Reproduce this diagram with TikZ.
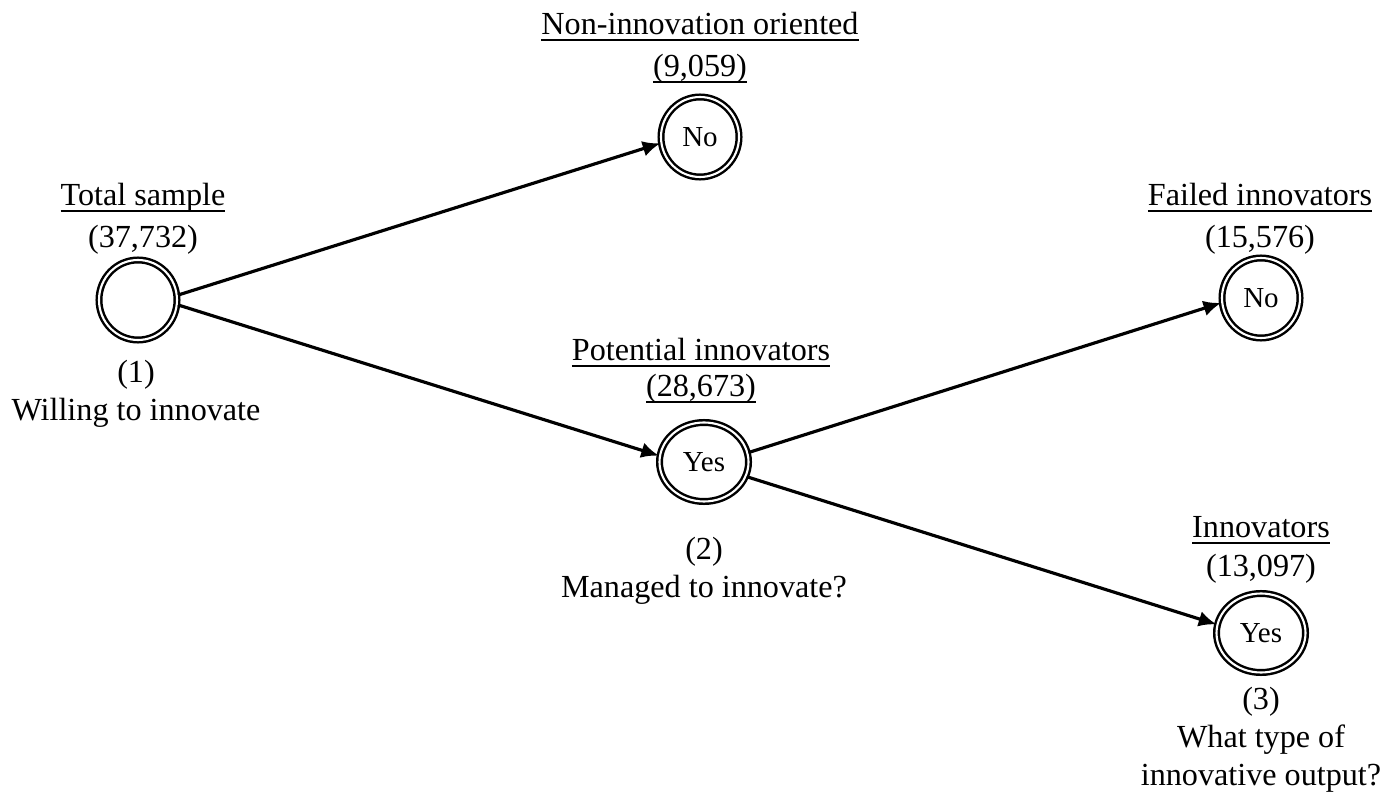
\documentclass[tikz,border=0pt]{standalone}
\usepackage{fontspec}
\setmainfont{Liberation Serif}
\usetikzlibrary{shapes.geometric,arrows.meta}
\newcommand{\uln}[1]{\setbox0\hbox{#1}\rlap{\rule[-3.6pt]{\wd0}{1.1pt}}\box0}

\tikzset{
	state/.style={ellipse, draw, double, double distance=1.2pt, line width=1.4pt, inner sep=0pt, font=\fontsize{16.5}{19}\selectfont},
	round/.style={state, minimum width=1.56cm, minimum height=1.6cm},
	oval/.style={state, minimum width=1.78cm, minimum height=1.58cm},
	lab/.style={align=center, inner sep=0pt, font=\fontsize{18.3}{23.9}\selectfont},
	sublab/.style={align=center, inner sep=0pt, font=\fontsize{18.3}{21.6}\selectfont},
	flow/.style={line width=1.8pt, -{Latex[length=10pt,width=9pt]}}
}

\begin{document}
\begin{tikzpicture}
	%%%%% START %%%%%
	\useasboundingbox (0, 0) rectangle (27.62, -16.06);
	
	% decision nodes
	\node[round] (total) at (2.76, -6.0) {};
	\node[round] (nonino) at (14.0, -2.74) {No};
	\node[oval] (potential) at (14.08, -9.24) {Yes};
	\node[round] (failed) at (25.22, -5.96) {No};
	\node[oval] (innov) at (25.22, -12.66) {Yes};
	
	% labels
	\node[lab] (totallab) at (2.86, -4.38) {\uln{Total sample}\\(37,732)};
	\node[sublab] (totalq) at (2.72, -7.87) {(1)\\Willing to innovate};
	\node[lab] (noninolab) at (14.0, -0.96) {\uln{Non-innovation oriented}\\\uln{(9,059)}};
	\node[lab, font=\fontsize{18.3}{20.5}\selectfont] (potentiallab) at (14.02, -7.42) {\uln{Potential innovators}\\\uln{(28,673)}};
	\node[sublab] (potentialq) at (14.08, -11.42) {(2)\\Managed to innovate?};
	\node[lab] (failedlab) at (25.2, -4.38) {\uln{Failed innovators}\\(15,576)};
	\node[lab, font=\fontsize{18.3}{22.5}\selectfont] (innovlab) at (25.22, -11.0) {\uln{Innovators}\\(13,097)};
	\node[sublab] (innovq) at (25.22, -14.8) {(3)\\What type of\\innovative output?};
	
	% arrows
	\draw[flow] (total.7) -- (nonino.189);
	\draw[flow] (total.-7) -- (potential.172);
	\draw[flow] (potential.12) -- (failed.187);
	\draw[flow] (potential.-19) -- (innov.169);
	%%%%% END %%%%%
\end{tikzpicture}
\end{document}
